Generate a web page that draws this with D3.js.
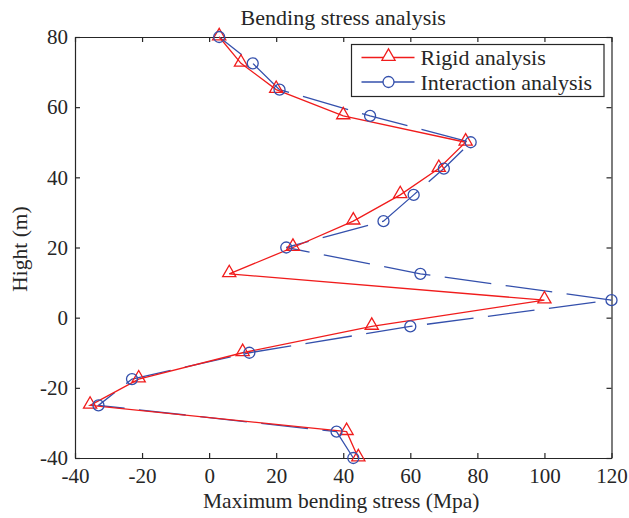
<!DOCTYPE html>
<html>
<head>
    <meta charset="utf-8">
    <script src="https://d3js.org/d3.v7.min.js"></script>
    <style>
        body { margin: 0; background: #fff; }
        text { font-family: "Liberation Serif", "Times New Roman", serif; fill: #262626; }
    </style>
</head>
<body>
    <div id="my_dataviz"></div>
    <script>

        // heights along the pile (m)
        var heights = [80, 72.5, 65, 57.5, 50, 42.5, 35, 27.5, 20, 12.5, 5, -2.5, -10, -17.5, -25, -32.5, -40];

        // maximum bending stress (Mpa) for each case
        var rigid = [3, 9.5, 20, 40, 76.5, 68.5, 57, 43, 25, 6, 100, 48.5, 10, -21, -35.5, 41, 44.5];
        var interaction = [3, 13, 21, 48, 78, 70, 61, 52, 23, 63, 120, 60, 12, -23, -33, 38, 43];

        var xTicks = [-40, -20, 0, 20, 40, 60, 80, 100, 120];
        var yTicks = [-40, -20, 0, 20, 40, 60, 80];

        // set the dimensions and margins of the graph
        var margin = { top: 37, right: 17.5, bottom: 60, left: 75 },
            width = 629 - margin.left - margin.right,
            height = 518 - margin.top - margin.bottom;

        var svg = d3.select("#my_dataviz")
            .append("svg")
            .attr("width", 629)
            .attr("height", 518)
            .append("g")
            .attr("transform", "translate(" + margin.left + "," + margin.top + ")");

        var x = d3.scaleLinear().domain([-40, 120]).range([0, width]);
        var y = d3.scaleLinear().domain([-40, 80]).range([height, 0]);

        var axisColor = "#262626";
        // plain hyphen for negatives, like the original
        var fmt = function (d) { return String(d); };

        // axes with inward ticks on all four sides
        var gx = svg.append("g")
            .attr("transform", "translate(0," + height + ")")
            .call(d3.axisBottom(x).tickValues(xTicks).tickFormat(fmt).tickSizeInner(-5).tickSizeOuter(0).tickPadding(10));
        var gy = svg.append("g")
            .call(d3.axisLeft(y).tickValues(yTicks).tickFormat(fmt).tickSizeInner(-5).tickSizeOuter(0).tickPadding(7));
        var gt = svg.append("g")
            .call(d3.axisTop(x).tickValues(xTicks).tickSizeInner(-5).tickSizeOuter(0).tickFormat(""));
        var gr = svg.append("g")
            .attr("transform", "translate(" + width + ",0)")
            .call(d3.axisRight(y).tickValues(yTicks).tickSizeInner(-5).tickSizeOuter(0).tickFormat(""));

        [gx, gy, gt, gr].forEach(function (g) {
            g.selectAll("path, line").attr("stroke", axisColor).attr("stroke-width", 1.2);
            g.selectAll("text").attr("font-size", 21).attr("fill", axisColor)
                .attr("font-family", "Liberation Serif, serif");
        });

        // title and axis labels
        svg.append("text")
            .attr("x", width / 2)
            .attr("y", -12)
            .attr("text-anchor", "middle")
            .attr("font-size", 22)
            .text("Bending stress analysis");
        svg.append("text")
            .attr("x", width / 2 - 2)
            .attr("y", height + 50)
            .attr("text-anchor", "middle")
            .attr("font-size", 21.5)
            .text("Maximum bending stress (Mpa)");
        svg.append("text")
            .attr("transform", "rotate(-90)")
            .attr("x", -212)
            .attr("y", -48)
            .attr("text-anchor", "middle")
            .attr("font-size", 21.5)
            .text("Hight (m)");

        var red = "#f01c1c", blue = "#3450ac";
        var tri = d3.symbol().type(d3.symbolTriangle).size(75);

        // Interaction analysis (long-dashed blue, circles)
        svg.append("path")
            .datum(heights)
            .attr("fill", "none")
            .attr("stroke", blue)
            .attr("stroke-width", 1.3)
            .attr("stroke-dasharray", "47,14.5")
            .attr("stroke-dashoffset", 18.4)
            .attr("d", d3.line()
                .x(function (d, i) { return x(interaction[i]); })
                .y(function (d) { return y(d); }));

        // Rigid analysis (solid red, triangles)
        svg.append("path")
            .datum(heights)
            .attr("fill", "none")
            .attr("stroke", red)
            .attr("stroke-width", 1.3)
            .attr("d", d3.line()
                .x(function (d, i) { return x(rigid[i]); })
                .y(function (d) { return y(d); }));

        svg.selectAll(".tri")
            .data(heights)
            .enter().append("path")
            .attr("class", "tri")
            .attr("d", tri)
            .attr("transform", function (d, i) { return "translate(" + x(rigid[i]) + "," + (y(d) - 1) + ")"; })
            .attr("fill", "none")
            .attr("stroke", red)
            .attr("stroke-width", 1.3);

        svg.selectAll(".circ")
            .data(heights)
            .enter().append("circle")
            .attr("class", "circ")
            .attr("cx", function (d, i) { return x(interaction[i]); })
            .attr("cy", function (d) { return y(d); })
            .attr("r", 5.5)
            .attr("fill", "none")
            .attr("stroke", blue)
            .attr("stroke-width", 1.3);

        // legend
        var legend = svg.append("g").attr("transform", "translate(" + (351.5 - margin.left) + "," + (44.5 - margin.top) + ")");
        legend.append("rect")
            .attr("width", 252.5)
            .attr("height", 52)
            .attr("fill", "#fff")
            .attr("stroke", axisColor)
            .attr("stroke-width", 1.2);
        var entries = [
            { name: "Rigid analysis", color: red, type: "tri" },
            { name: "Interaction analysis", color: blue, type: "circ" }
        ];
        entries.forEach(function (e, i) {
            var yy = 13 + i * 24.5;
            legend.append("line")
                .attr("x1", 10).attr("x2", 63)
                .attr("y1", yy).attr("y2", yy)
                .attr("stroke", e.color).attr("stroke-width", 1.3);
            if (e.type === "tri") {
                legend.append("path").attr("d", tri)
                    .attr("transform", "translate(37," + (yy - 1) + ")")
                    .attr("fill", "#fff").attr("stroke", e.color).attr("stroke-width", 1.3);
            } else {
                legend.append("circle").attr("cx", 37).attr("cy", yy).attr("r", 5.5)
                    .attr("fill", "#fff").attr("stroke", e.color).attr("stroke-width", 1.3);
            }
            legend.append("text")
                .attr("x", 69)
                .attr("y", yy + 7.5)
                .attr("font-size", 22)
                .text(e.name);
        });

    </script>
</body>
</html>
